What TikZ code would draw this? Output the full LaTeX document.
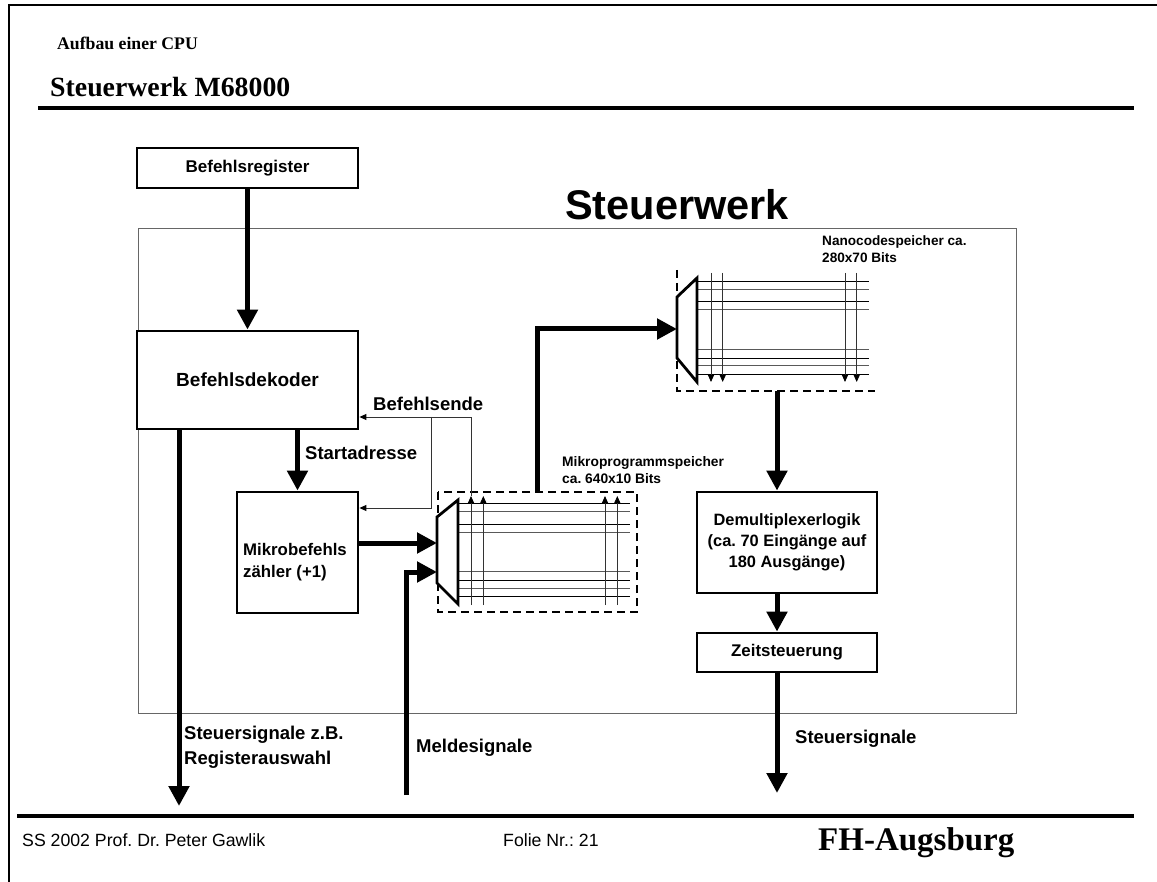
\documentclass[tikz,border=0pt]{standalone}
\usepackage{fontspec}
\setmainfont{Liberation Serif}
\setsansfont{Liberation Sans}
\usetikzlibrary{arrows.meta}
\begin{document}
\frenchspacing
\begin{tikzpicture}[x=1pt,y=-1pt,
  box/.style={draw, fill=white, line width=2.8pt, inner sep=0pt, align=center},
  big/.style={line width=5pt, -{Triangle[length=20pt,width=20pt]}},
  thinarr/.style={line width=0.9pt, draw=black!80, -{Triangle[length=7pt,width=6pt,color=black]}},
  gridh/.style={line width=1pt},
  gridg/.style={line width=1pt, draw=black!65},
  dashbox/.style={line width=2pt, dash pattern=on 8pt off 5pt},
  muxshape/.style={line width=2.8pt, fill=white, line join=miter},
  lbl/.style={inner sep=0pt, font=\sffamily\bfseries\fontsize{18.5}{25}\selectfont, align=left},
]
\useasboundingbox (0,0) rectangle (1157,882);
\fill[white] (0,0) rectangle (1157,882);
% slide frame
\draw[line width=1.5pt] (9,882) -- (9,5) -- (1157,5);
% header
\node[anchor=west, inner sep=0pt, font=\bfseries\fontsize{17.7}{20}\selectfont] (kap) at (57,43) {Aufbau einer CPU};
\node[anchor=west, inner sep=0pt, font=\bfseries\fontsize{27.8}{30}\selectfont] (titel) at (50,87) {Steuerwerk M68000};
\draw[line width=4pt] (38,108) -- (1134,108);
% footer
\draw[line width=4pt] (17,816) -- (1134,816);
\node[anchor=west, inner sep=0pt, font=\sffamily\fontsize{17.7}{20}\selectfont] (autor) at (22,840) {SS 2002 Prof. Dr. Peter Gawlik};
\node[anchor=west, inner sep=0pt, font=\sffamily\fontsize{17.7}{20}\selectfont] (folie) at (503,840) {Folie Nr.: 21};
\node[anchor=west, inner sep=0pt, font=\bfseries\fontsize{33}{36}\selectfont] (fh) at (818,843) {FH-Augsburg};

% Steuerwerk frame
\draw[line width=1pt, draw=black!60] (138,229) rectangle (1016,713);
\node[inner sep=0pt, font=\sffamily\bfseries\fontsize{41.5}{48}\selectfont] (sw) at (677,205) {Steuerwerk};

% boxes
\node[box, minimum width=221pt, minimum height=40pt, font=\sffamily\bfseries\fontsize{17}{20}\selectfont] (breg) at (247.5,168) {Befehlsregister};
\node[box, minimum width=221pt, minimum height=98pt, font=\sffamily\bfseries\fontsize{19}{22}\selectfont] (bdek) at (247.5,380) {Befehlsdekoder};
\node[box, minimum width=121pt, minimum height=121pt] (mbz) at (297.5,552.5) {};
\node[anchor=west, inner sep=0pt, align=left, font=\sffamily\bfseries\fontsize{16.8}{22}\selectfont] (mbztext) at (243,562) {Mikrobefehls\\z\"ahler (+1)};
\node[box, minimum width=180pt, minimum height=101pt, font=\sffamily\bfseries\fontsize{16.4}{21}\selectfont] (demux) at (787,542.5) {Demultiplexerlogik\\(ca. 70 Eing\"ange auf\\180 Ausg\"ange)};
\node[box, minimum width=180pt, minimum height=39pt, font=\sffamily\bfseries\fontsize{16.9}{20}\selectfont] (zeit) at (787,652.5) {Zeitsteuerung};

% microprogram memory
\draw[dashbox] (438,492) rectangle (637,612);
\foreach \y/\s in {503.3/gridh,511.7/gridg,524/gridh,532.3/gridg,571.7/gridg,580.7/gridh,588.3/gridg,596.7/gridh}
  \draw[\s] (458,\y) -- (630,\y);
\foreach \x in {471,483.3,605,617.3}
  \draw[thinarr] (\x,605) -- (\x,496);
\draw[muxshape] (458,500) -- (458,604) -- (437,583) -- (437,517) -- cycle;
\coordinate (min1) at (437,543);
\coordinate (min2) at (437,572);
\coordinate (mtop) at (537,492);
\node[anchor=west, inner sep=0pt, align=left, font=\sffamily\bfseries\fontsize{13.8}{17}\selectfont] (mlabel) at (562,470.5) {Mikroprogrammspeicher\\ca. 640x10 Bits};

% nanocode memory
\draw[dashbox] (677,270) -- (677,391) -- (875,391);
\foreach \y/\s in {281.7/gridh,290/gridg,301.7/gridh,309.3/gridg,350/gridg,358.3/gridh,366/gridg,374.3/gridh}
  \draw[\s] (697,\y) -- (869,\y);
\foreach \x in {711,722.7,845,856.7}
  \draw[thinarr] (\x,273) -- (\x,382);
\draw[muxshape] (697,278) -- (697,382) -- (677,358) -- (677,297) -- cycle;
\coordinate (nin) at (677,329);
\coordinate (nout) at (777,391);
\node[anchor=west, inner sep=0pt, align=left, font=\sffamily\bfseries\fontsize{13.6}{17}\selectfont] (nlabel) at (822,249) {Nanocodespeicher ca.\\280x70 Bits};

% thick connectors
\coordinate (ctrlout) at (179,806);
\coordinate (meld) at (406,795);
\coordinate (sout) at (777,793);
\draw[big] (breg.south) -- (bdek.north);
\draw[big] (bdek.south -| ctrlout) -- (ctrlout);
\draw[big] (bdek.south -| mbz.north) -- (mbz.north);
\draw[big] (mbz.east |- min1) -- (min1);
\draw[big] (meld) |- (min2);
\draw[big] (mtop) |- (nin);
\draw[big] (nout) -- (nout |- demux.north);
\draw[big] (nout |- demux.south) -- (nout |- zeit.north);
\draw[big] (nout |- zeit.south) -- (sout);

% thin feedback (Befehlsende)
\coordinate (fbA) at (471,417);
\coordinate (fbB) at (431,417);
\coordinate (fbC) at (431,508);
\draw[thinarr] (471,496) -- (fbA) -- (fbA -| bdek.east);
\draw[thinarr] (fbB) -- (fbC) -- (fbC -| mbz.east);

% labels
\node[lbl, anchor=west] (start) at (305,453) {Startadresse};
\node[lbl, anchor=west] (bende) at (373,404) {Befehlsende};
\node[lbl, anchor=west] (ssz) at (184,747.5) {Steuersignale z.B.\\Registerauswahl};
\node[lbl, anchor=west] (mlds) at (416,748) {Meldesignale};
\node[lbl, anchor=west] (sts) at (795,739) {Steuersignale};
\end{tikzpicture}
\end{document}
